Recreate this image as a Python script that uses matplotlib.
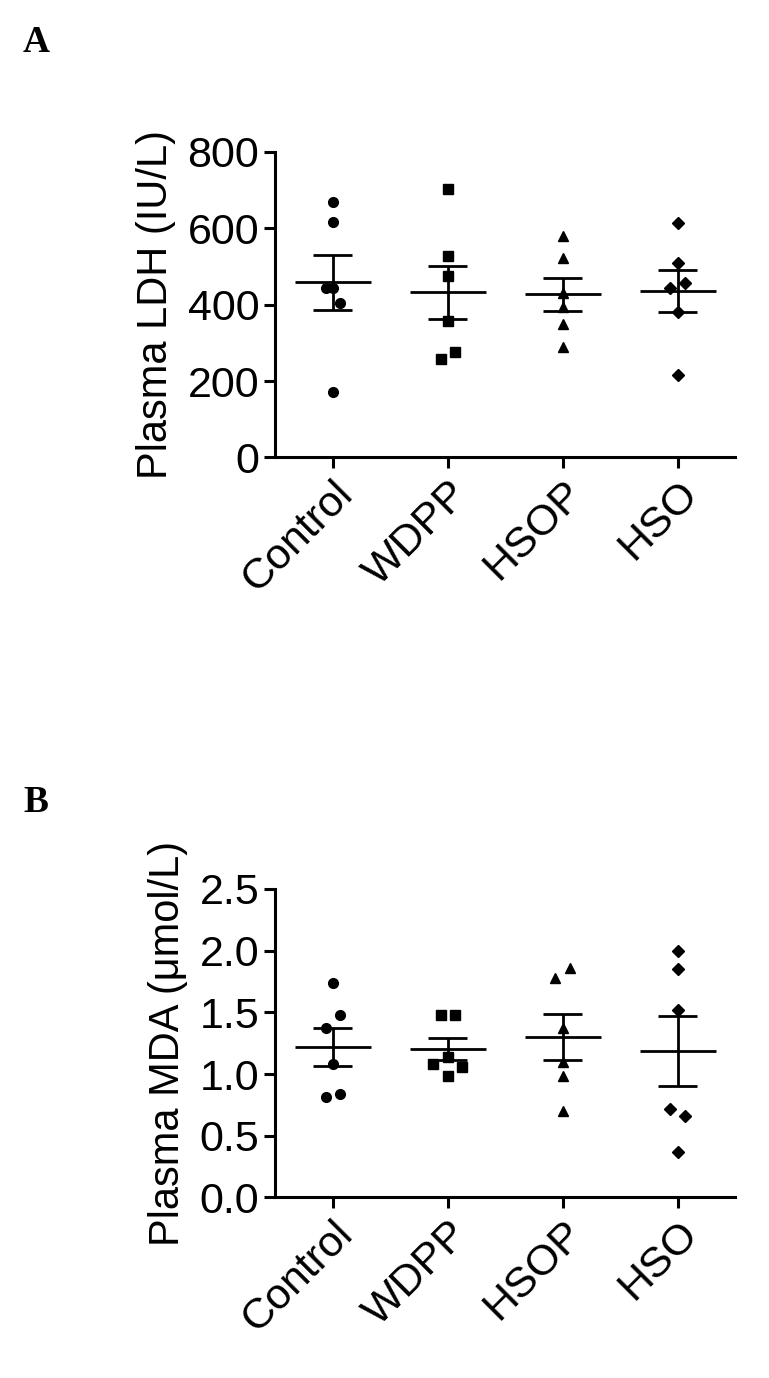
import matplotlib
matplotlib.use("Agg")
import matplotlib.pyplot as plt
import numpy as np

plt.rcParams['font.family'] = ['Liberation Sans', 'DejaVu Sans']

groups = ["Control", "WDPP", "HSOP", "HSO"]
markers = ["o", "s", "^", "D"]

ldh_control = [669, 617, 443, 443, 403, 171]
ldh_wdpp = [702, 526, 474, 356, 277, 257]
ldh_hsop = [578, 521, 430, 393, 349, 288]
ldh_hso = [614, 508, 456, 443, 380, 216]
ldh_offsets = [[0, 0, -0.18, 0, 0.18, 0], [0, 0, 0, 0, 0.18, -0.18], [0, 0, 0, 0, 0, 0], [0, 0, 0.18, -0.18, 0, 0]]

mda_control = [1.74, 1.48, 1.37, 1.08, 0.84, 0.81]
mda_wdpp = [1.48, 1.48, 1.14, 1.08, 1.06, 0.98]
mda_hsop = [1.86, 1.78, 1.37, 1.10, 0.98, 0.70]
mda_hso = [2.00, 1.85, 1.52, 0.72, 0.66, 0.37]
mda_offsets = [[0, 0.18, -0.18, 0, 0.18, -0.18], [-0.18, 0.18, 0, -0.36, 0.36, 0], [0.18, -0.18, 0, 0, 0, 0], [0, 0, 0, -0.18, 0.18, 0]]

W, H = 769, 1378
fig = plt.figure(figsize=(W / 100, H / 100), dpi=100)

def panel(rect, data, offsets, ylim, yticks, fmt, ylabel, letter, lety):
    ax = fig.add_axes(rect)
    for i, (vals, m) in enumerate(zip(data, markers)):
        vals = np.array(vals, float)
        xs = i + np.array(offsets[i]) * 0.35
        ax.plot(xs, vals, ls='none', marker=m, color='black',
                markersize=7 if m != 'D' else 6, clip_on=False)
        mean = vals.mean()
        sem = vals.std(ddof=1) / np.sqrt(len(vals))
        ax.hlines(mean, i - 0.33, i + 0.33, color='black', lw=2)
        ax.hlines([mean - sem, mean + sem], i - 0.17, i + 0.17, color='black', lw=2)
        ax.vlines(i, mean - sem, mean + sem, color='black', lw=2)
    ax.set_xlim(-0.5, 3.5)
    ax.set_ylim(*ylim)
    ax.set_yticks(yticks)
    ax.set_yticklabels([fmt.format(v) for v in yticks])
    ax.set_xticks(range(4))
    ax.set_xticklabels(groups, rotation=45, ha='right', rotation_mode='anchor')
    for s in ['top', 'right']:
        ax.spines[s].set_visible(False)
    for s in ['left', 'bottom']:
        ax.spines[s].set_linewidth(2.2)
    ax.tick_params(labelsize=31, width=2.2, length=8)
    ax.set_ylabel(ylabel, fontsize=30, labelpad=8)
    fig.text(0.03, lety, letter, fontsize=27, fontweight='bold', family='Liberation Serif')
    return ax

panel([0.358, 0.668, 0.598, 0.222], [ldh_control, ldh_wdpp, ldh_hsop, ldh_hso], ldh_offsets,
      (0, 800), [0, 200, 400, 600, 800], "{:.0f}", "Plasma LDH (IU/L)", "A", 0.962)
panel([0.358, 0.131, 0.598, 0.224], [mda_control, mda_wdpp, mda_hsop, mda_hso], mda_offsets,
      (0, 2.5), [0, 0.5, 1.0, 1.5, 2.0, 2.5], "{:.1f}", "Plasma MDA (\u03bcmol/L)", "B", 0.411)

fig.savefig("out.png", dpi=100)
